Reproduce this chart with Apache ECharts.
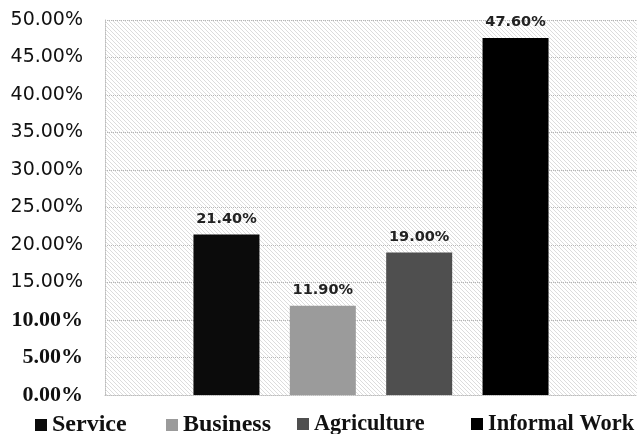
<!DOCTYPE html>
<html><head><meta charset="utf-8">
<script src="https://cdn.jsdelivr.net/npm/echarts@6/dist/echarts.min.js"></script>
<style>html,body{margin:0;padding:0;background:#fff}#c{width:637px;height:434px}</style>
</head><body><div id="c"></div>
<script>
var categories = ['Service', 'Business', 'Agriculture', 'Informal Work'];
var values = [21.40, 11.90, 19.00, 47.60];
var colors = ['#0b0b0b', '#9b9b9b', '#4f4f4f', '#000000'];
var legendLeft = [35, 166, 297, 471];
var legendFont = [24, 24, 22.2, 22.4];

var pc = document.createElement('canvas');
pc.width = 4; pc.height = 4;
var g = pc.getContext('2d');
g.fillStyle = '#ffffff'; g.fillRect(0, 0, 4, 4);
g.fillStyle = '#dcdcdc';
for (var i = 0; i < 4; i++) { g.fillRect(i, i, 1, 1); }

var chart = echarts.init(document.getElementById('c'));
var series = categories.map(function (name, i) {
  return {
    name: name, type: 'bar', data: [values[i]],
    barWidth: 66, barGap: '46%',
    itemStyle: { color: colors[i] },
    label: {
      show: true, position: 'top', distance: 8,
      formatter: function (p) { return p.value.toFixed(2) + '%'; },
      fontFamily: 'DejaVu Sans', fontSize: 14.5, fontWeight: 'bold', color: '#222'
    }
  };
});
var legends = categories.map(function (name, i) {
  return {
    data: [name], top: 413, left: legendLeft[i], padding: 0, icon: 'rect', itemWidth: 12, itemHeight: 12,
    textStyle: { fontFamily: 'Liberation Serif', fontWeight: 'bold', fontSize: legendFont[i], color: '#111' }
  };
});
chart.setOption({
  animation: false,
  grid: { left: 105, width: 536, top: 20, bottom: 39, show: true, borderWidth: 0,
          backgroundColor: { image: pc, repeat: 'repeat' } },
  legend: legends,
  xAxis: { type: 'category', data: [''], axisTick: { show: false }, axisLabel: { show: false },
           axisLine: { show: true, lineStyle: { color: '#bdbdbd', type: 'dotted' } } },
  yAxis: {
    type: 'value', min: 0, max: 50, interval: 5,
    axisLine: { show: true, lineStyle: { color: '#bdbdbd', type: 'dotted' } },
    splitLine: { lineStyle: { color: '#b5b5b5', type: 'dotted' } },
    axisLabel: {
      margin: 22,
      formatter: function (v) {
        var s = v.toFixed(2) + '%';
        return v > 12 ? '{s|' + s + '}' : '{r|' + s + '}';
      },
      rich: {
        s: { fontFamily: 'DejaVu Sans', fontSize: 19, color: '#111' },
        r: { fontFamily: 'Liberation Serif', fontWeight: 'bold', fontSize: 22, color: '#111' }
      }
    }
  },
  series: series
});
</script></body></html>
